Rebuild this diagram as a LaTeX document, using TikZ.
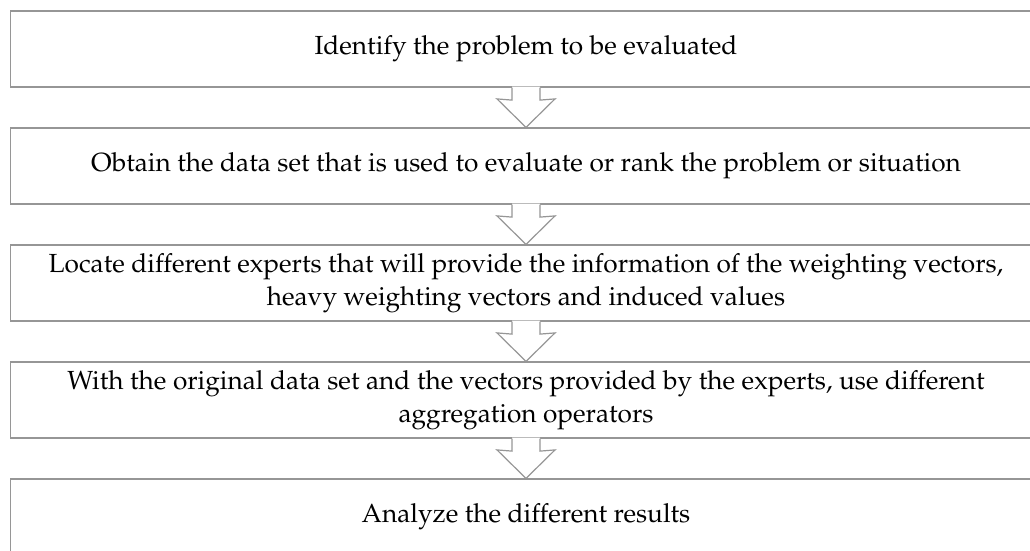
\documentclass[tikz,border=0pt]{standalone}
\usepackage[T1]{fontenc}
\usepackage{mathpazo}
\definecolor{linegray}{RGB}{150,150,150}
\tikzset{
  stepbox/.style={draw=linegray, line width=1.2pt, fill=white, minimum width=1031pt, minimum height=76pt,
    inner sep=0pt, align=center, font=\fontsize{26.2}{33}\selectfont, text=black},
  blockarrow/.style={draw=linegray, line width=1.2pt, line join=miter},
}
\begin{document}
\begin{tikzpicture}[x=1pt,y=-1pt]
\useasboundingbox (0,0) rectangle (1030,550);
\node[stepbox] (b1) at (526,49) {Identify the problem to be evaluated};
\node[stepbox] (b2) at (526,166) {Obtain the data set that is used to evaluate or rank the problem or situation};
\node[stepbox] (b3) at (526,283) {Locate different experts that will provide the information of the weighting vectors,\\heavy weighting vectors and induced values};
\node[stepbox] (b4) at (526,400) {With the original data set and the vectors provided by the experts, use different\\aggregation operators};
\node[stepbox] (b5) at (526,517) {Analyze the different results};
\foreach \a/\b in {b1/b2,b2/b3,b3/b4,b4/b5}{
  \fill[white] ([xshift=-14pt,yshift=1pt]\a.south) -- ([xshift=-14pt,yshift=-12.5pt]\a.south)
    -- ([xshift=-29pt,yshift=28.5pt]\b.north) -- (\b.north) -- ([xshift=29pt,yshift=28.5pt]\b.north)
    -- ([xshift=14pt,yshift=-12.5pt]\a.south) -- ([xshift=14pt,yshift=1pt]\a.south) -- cycle;
  \draw[blockarrow] ([xshift=-14pt]\a.south) -- ([xshift=-14pt,yshift=-12.5pt]\a.south)
    -- ([xshift=-29pt,yshift=28.5pt]\b.north) -- (\b.north) -- ([xshift=29pt,yshift=28.5pt]\b.north)
    -- ([xshift=14pt,yshift=-12.5pt]\a.south) -- ([xshift=14pt]\a.south);
}
\end{tikzpicture}
\end{document}
